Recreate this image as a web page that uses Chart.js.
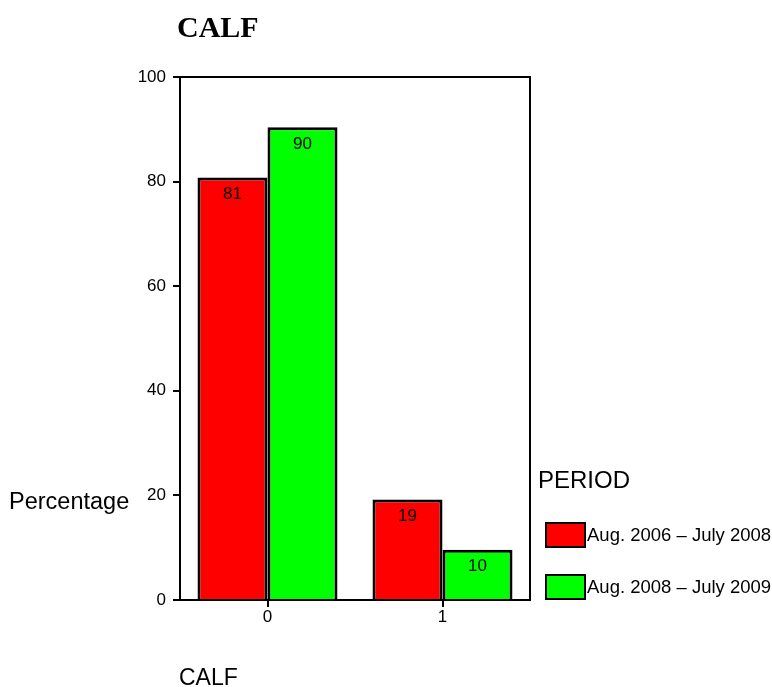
<!DOCTYPE html>
<html>
<head>
<meta charset="utf-8">
<script src="https://cdn.jsdelivr.net/npm/chart.js@4/dist/chart.umd.min.js"></script>
<style>
  body { margin: 0; background: #fff; }
  canvas { display: block; }
</style>
</head>
<body>
<canvas id="chart" width="772" height="687"></canvas>
<script>
// dados do gráfico
const categories = ['0', '1'];
const seriesNames = ['Aug. 2006 – July 2008', 'Aug. 2008 – July 2009'];
const period1 = [80.8, 19.2];
const period2 = [90.4, 9.6];
const yTicks = [0, 20, 40, 60, 80, 100];
const colors = ['#ff0000', '#00ff00'];

const sans = '"Liberation Sans", Arial, sans-serif';

// textos extras: título, eixo Y, eixo X, legenda, rótulos, moldura
const extras = {
    id: 'extras',
    afterDraw(chart) {
        const ctx = chart.ctx;
        const area = chart.chartArea;
        ctx.save();

        // moldura
        ctx.strokeStyle = '#000';
        ctx.lineWidth = 2;
        ctx.strokeRect(area.left, area.top, area.right - area.left, area.bottom - area.top);

        // rótulos nas barras
        ctx.fillStyle = '#000';
        ctx.font = '17px ' + sans;
        ctx.textAlign = 'center';
        ctx.textBaseline = 'middle';
        chart.data.datasets.forEach((ds, i) => {
            chart.getDatasetMeta(i).data.forEach((bar, j) => {
                ctx.fillText(Math.round(ds.data[j]), bar.x, bar.y + 17);
            });
        });

        // título
        ctx.textAlign = 'left';
        ctx.font = 'bold 30px "Liberation Serif", "Times New Roman", serif';
        ctx.fillText('CALF', area.left - 3, 29);

        // título eixo Y (horizontal)
        ctx.font = '23.5px ' + sans;
        ctx.fillText('Percentage', 9, 503);

        // título eixo X
        ctx.font = '23px ' + sans;
        ctx.fillText('CALF', area.left - 1, 679);

        // legenda
        ctx.font = '24px ' + sans;
        ctx.fillText('PERIOD', 538, 481);
        ctx.font = '18.5px ' + sans;
        chart.data.datasets.forEach((ds, i) => {
            const y = 523 + i * 52;
            ctx.fillStyle = ds.backgroundColor;
            ctx.fillRect(546, y, 39, 24);
            ctx.strokeStyle = '#000';
            ctx.lineWidth = 2;
            ctx.strokeRect(546, y, 39, 24);
            ctx.fillStyle = '#000';
            ctx.fillText(ds.label, 587, y + 13);
        });

        ctx.restore();
    }
};

new Chart(document.getElementById('chart'), {
    type: 'bar',
    data: {
        labels: categories,
        datasets: [
            { label: seriesNames[0], data: period1, backgroundColor: colors[0] },
            { label: seriesNames[1], data: period2, backgroundColor: colors[1] }
        ].map(ds => Object.assign(ds, {
            borderColor: '#000',
            borderWidth: 3,
            categoryPercentage: 0.8,
            barPercentage: 1.0
        }))
    },
    options: {
        responsive: false,
        animation: false,
        events: [],
        layout: { padding: { left: 0, right: 242, top: 77, bottom: 0 } },
        plugins: {
            legend: { display: false },
            title: { display: false },
            tooltip: { enabled: false }
        },
        scales: {
            x: {
                offset: true,
                grid: { drawOnChartArea: false, offset: false, tickLength: 7, color: '#000', lineWidth: 2 },
                border: { display: true, color: '#000', width: 2 },
                ticks: { color: '#000', font: { size: 17, family: sans }, padding: 0 },
                afterFit(scale) { scale.height = 87; }
            },
            y: {
                min: 0,
                max: 100,
                afterBuildTicks(scale) { scale.ticks = yTicks.map(v => ({ value: v })); },
                grid: { drawOnChartArea: false, tickLength: 7, color: '#000', lineWidth: 2 },
                border: { display: true, color: '#000', width: 2 },
                ticks: { color: '#000', font: { size: 17, family: sans }, padding: 7 },
                afterFit(scale) { scale.width = 180; }
            }
        }
    },
    plugins: [extras]
});
</script>
</body>
</html>
